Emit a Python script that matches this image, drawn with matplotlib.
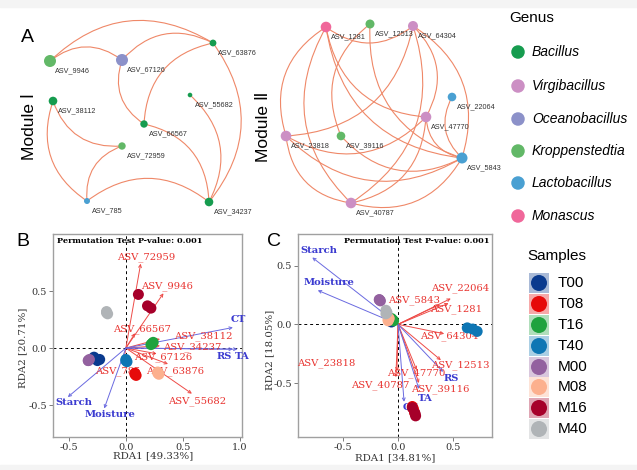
import matplotlib
matplotlib.use("Agg")
import matplotlib.pyplot as plt
from matplotlib.patches import FancyArrowPatch, Rectangle

W, H = 637, 470

# ---------------- data ----------------
genus_names = ["Bacillus", "Virgibacillus", "Oceanobacillus", "Kroppenstedtia", "Lactobacillus", "Monascus"]
genus_colors = ["#169c4f", "#cc8fc4", "#8c91c9", "#62b867", "#4aa0d2", "#f0679a"]

# Module I network
m1_nodes = ["ASV_9946", "ASV_67126", "ASV_63876", "ASV_38112", "ASV_55682", "ASV_66567", "ASV_72959", "ASV_785", "ASV_34237"]
m1_x = [50, 122, 213, 53, 190, 144, 122, 87, 209]
m1_y = [61, 60, 43, 101, 95, 124, 146, 201, 202]
m1_r = [6, 6, 3.4, 4.3, 2.3, 3.7, 3.7, 3.0, 4.3]
m1_genus = [3, 2, 0, 0, 0, 0, 3, 4, 0]
m1_edges = [("ASV_63876", "ASV_9946"), ("ASV_67126", "ASV_9946"), ("ASV_63876", "ASV_67126"),
            ("ASV_67126", "ASV_66567"), ("ASV_63876", "ASV_66567"), ("ASV_34237", "ASV_63876"),
            ("ASV_34237", "ASV_55682"), ("ASV_34237", "ASV_66567"), ("ASV_38112", "ASV_72959"),
            ("ASV_38112", "ASV_785"), ("ASV_72959", "ASV_785"), ("ASV_34237", "ASV_785")]

# Module II network
m2_nodes = ["ASV_1281", "ASV_12513", "ASV_64304", "ASV_22064", "ASV_47770", "ASV_23818", "ASV_39116", "ASV_5843", "ASV_40787"]
m2_x = [326, 370, 413, 452, 426, 286, 341, 462, 351]
m2_y = [27, 24, 26, 97, 117, 136, 136, 158, 203]
m2_r = [5.3, 4.5, 5.0, 4.3, 5.3, 5.3, 4.3, 5.5, 5.3]
m2_genus = [5, 3, 1, 4, 1, 1, 3, 4, 1]
m2_edges = [("ASV_1281", "ASV_64304"), ("ASV_1281", "ASV_23818"), ("ASV_1281", "ASV_40787"),
            ("ASV_1281", "ASV_47770"), ("ASV_1281", "ASV_5843"), ("ASV_12513", "ASV_39116"),
            ("ASV_12513", "ASV_5843"), ("ASV_23818", "ASV_64304"), ("ASV_40787", "ASV_64304"),
            ("ASV_5843", "ASV_64304"), ("ASV_47770", "ASV_64304"), ("ASV_22064", "ASV_5843"),
            ("ASV_40787", "ASV_47770"), ("ASV_47770", "ASV_5843"), ("ASV_23818", "ASV_5843"),
            ("ASV_23818", "ASV_40787"), ("ASV_39116", "ASV_5843"), ("ASV_40787", "ASV_5843"),
            ("ASV_23818", "ASV_47770")]

# Samples
sample_names = ["T00", "T08", "T16", "T40", "M00", "M08", "M16", "M40"]
sample_colors = ["#0a3a8e", "#e60a0a", "#1fa23e", "#0e76b4", "#93619f", "#fcb08e", "#a6002a", "#b0b4b7"]

# RDA panel B
b_pts_grp = ["T00"] * 3 + ["T08"] * 3 + ["T16"] * 3 + ["T40"] * 3 + ["M00"] * 3 + ["M08"] * 3 + ["M16"] * 3 + ["M40"] * 3
b_pts_x = [-0.28, -0.25, -0.23, 0.08, 0.09, 0.08, 0.22, 0.24, 0.23, 0.00, 0.01, 0.00,
           -0.33, -0.32, -0.33, 0.28, 0.29, 0.28, 0.11, 0.19, 0.22, -0.17, -0.16, -0.17]
b_pts_y = [-0.08, -0.11, -0.10, -0.22, -0.24, -0.23, 0.03, 0.05, 0.04, -0.10, -0.12, -0.11,
           -0.11, -0.10, -0.11, -0.22, -0.23, -0.21, 0.47, 0.37, 0.35, 0.31, 0.30, 0.32]
b_sp_names = ["ASV_72959", "ASV_9946", "ASV_66567", "ASV_38112", "ASV_34237", "ASV_67126", "ASV_785", "ASV_63876", "ASV_55682"]
b_sp_x = [0.13, 0.33, 0.08, 0.30, 0.30, 0.27, -0.02, 0.37, 0.58]
b_sp_y = [0.74, 0.48, 0.13, 0.08, 0.02, -0.05, -0.12, -0.14, -0.40]
b_sp_lx = [0.175, 0.36, 0.14, 0.68, 0.58, 0.33, -0.07, 0.43, 0.63]
b_sp_ly = [0.80, 0.54, 0.17, 0.10, 0.01, -0.08, -0.20, -0.20, -0.47]
b_env_names = ["CT", "RS", "TA", "Starch", "Moisture"]
b_env_x = [0.94, 0.94, 0.98, -0.51, -0.19]
b_env_y = [0.18, -0.01, -0.01, -0.43, -0.53]
b_env_lx = [0.99, 0.86, 1.02, -0.46, -0.14]
b_env_ly = [0.25, -0.07, -0.07, -0.48, -0.58]

# RDA panel C
c_pts_grp = b_pts_grp
c_pts_x = [-0.07, -0.06, -0.08, 0.13, 0.14, 0.15, -0.05, -0.04, -0.06, 0.63, 0.68, 0.72,
           -0.17, -0.16, -0.17, -0.09, -0.08, -0.09, 0.13, 0.155, 0.16, -0.11, -0.10, -0.11]
c_pts_y = [0.03, 0.02, 0.04, -0.70, -0.72, -0.75, 0.04, 0.03, 0.05, -0.03, -0.04, -0.06,
           0.21, 0.20, 0.21, 0.03, 0.05, 0.04, -0.71, -0.76, -0.78, 0.12, 0.10, 0.09]
c_sp_names = ["ASV_22064", "ASV_1281", "ASV_5843", "ASV_64304", "ASV_12513", "ASV_47770", "ASV_39116", "ASV_23818", "ASV_40787"]
c_sp_x = [0.48, 0.46, 0.38, 0.42, 0.39, 0.17, 0.19, -0.01, -0.02]
c_sp_y = [0.22, 0.18, 0.17, -0.08, -0.305, -0.39, -0.50, -0.40, -0.45]
c_sp_lx = [0.57, 0.53, 0.15, 0.47, 0.57, 0.17, 0.38, -0.65, -0.16]
c_sp_ly = [0.31, 0.13, 0.21, -0.10, -0.35, -0.42, -0.555, -0.33, -0.52]
c_env_names = ["Starch", "Moisture", "RS", "TA", "CT"]
c_env_x = [-0.78, -0.73, 0.41, 0.19, 0.055]
c_env_y = [0.57, 0.29, -0.405, -0.55, -0.66]
c_env_lx = [-0.72, -0.63, 0.48, 0.25, 0.11]
c_env_ly = [0.63, 0.36, -0.46, -0.635, -0.71]

b_xlabel, b_ylabel = "RDA1 [49.33%]", "RDA2 [20.71%]"
c_xlabel, c_ylabel = "RDA1 [34.81%]", "RDA2 [18.05%]"
perm_text = "Permutation Test P-value: 0.001"

# ---------------- styles ----------------
SANS = ["Liberation Sans", "DejaVu Sans"]
SERIF = ["DejaVu Serif"]
EDGE_C = "#ef8868"
RED = "#e8332f"
BLUE = "#3b3bd0"
RED_L = "#ee4b47"
BLUE_L = "#6a6ae0"

fig = plt.figure(figsize=(W / 100, H / 100), dpi=100)
fig.patch.set_facecolor("white")
fig.patches.append(Rectangle((0, 1 - 7 / H), 1, 7 / H, transform=fig.transFigure, color="#f4f4f4", zorder=0))
fig.patches.append(Rectangle((0, 0), 1, 5 / H, transform=fig.transFigure, color="#f4f4f4", zorder=0))

ax0 = fig.add_axes([0, 0, 1, 1])
ax0.set_xlim(0, W)
ax0.set_ylim(H, 0)
ax0.axis("off")
ax0.patch.set_alpha(0)


def draw_network(nodes, xs, ys, rs, gen, edges, rad):
    idx = {n: i for i, n in enumerate(nodes)}
    for a, b in edges:
        i, j = idx[a], idx[b]
        p = FancyArrowPatch((xs[i], ys[i]), (xs[j], ys[j]), connectionstyle=f"arc3,rad={rad}",
                            arrowstyle="-", color=EDGE_C, lw=0.8, shrinkA=0, shrinkB=0, zorder=2)
        ax0.add_patch(p)
    ax0.scatter(xs, ys, s=[(2 * r / 1.389) ** 2 for r in rs], c=[genus_colors[g] for g in gen],
                zorder=3, linewidths=0)
    for n, x, y in zip(nodes, xs, ys):
        ax0.text(x + 5, y + 10, n, fontsize=5.2, family=SANS, color="#333333", ha="left", va="center", zorder=4)


draw_network(m1_nodes, m1_x, m1_y, m1_r, m1_genus, m1_edges, 0.38)
draw_network(m2_nodes, m2_x, m2_y, m2_r, m2_genus, m2_edges, 0.38)

ax0.text(27, 37, "A", fontsize=14, family=SANS, ha="center", va="center")
ax0.text(29, 127, "Module Ⅰ", fontsize=12.5, family=SANS, rotation=90, ha="center", va="center")
ax0.text(264, 127, "Module Ⅱ", fontsize=12.5, family=SANS, rotation=90, ha="center", va="center")
ax0.text(23, 241, "B", fontsize=14, family=SANS, ha="center", va="center")
ax0.text(274, 241, "C", fontsize=14, family=SANS, ha="center", va="center")

# Genus legend
ax0.text(509, 18, "Genus", fontsize=11, family=SANS, ha="left", va="center")
g_y = [52, 86, 119, 151, 183, 216]
ax0.scatter([518] * len(genus_names), g_y, s=(13.5 / 1.389) ** 2, c=genus_colors, linewidths=0)
for name, y in zip(genus_names, g_y):
    ax0.text(532, y, name, fontsize=10, family=SANS, style="italic", ha="left", va="center")

# Samples legend
ax0.text(527, 256, "Samples", fontsize=11, family=SANS, ha="left", va="center")
s_y = [283, 304, 325, 346, 367, 387, 408, 429]
for col, y in zip(sample_colors, s_y):
    ax0.add_patch(Rectangle((529, y - 10), 20, 20, facecolor=col, alpha=0.35, linewidth=0))
ax0.scatter([539] * len(sample_names), s_y, s=(16 / 1.389) ** 2, c=sample_colors, linewidths=0, zorder=3)
for name, y in zip(sample_names, s_y):
    ax0.text(558, y, name, fontsize=11, family=SANS, ha="left", va="center")


def pbox(x0, y0, x1, y1):
    return [x0 / W, 1 - y1 / H, (x1 - x0) / W, (y1 - y0) / H]


def rda_panel(box, xlim, ylim, xticks, yticks, grp, px, py, spn, spx, spy, splx, sply,
              envn, envx, envy, envlx, envly, xl, yl, perm_left, xlc, ylc):
    ax = fig.add_axes(pbox(*box))
    ax.set_xlim(*xlim)
    ax.set_ylim(*ylim)
    ax.set_xticks(xticks)
    ax.set_yticks(yticks)
    ax.set_xticklabels([f"{t:.1f}" for t in xticks], family=SERIF, fontsize=7, color="#333333")
    ax.set_yticklabels([f"{t:.1f}" for t in yticks], family=SERIF, fontsize=7, color="#333333")
    ax.tick_params(length=3, width=0.6, color="#666666", pad=1.5)
    for s in ax.spines.values():
        s.set_color("#a0a0a0")
        s.set_linewidth(1.0)
    ax.axhline(0, color="black", lw=0.7, ls=(0, (3, 3)), zorder=1)
    ax.axvline(0, color="black", lw=0.7, ls=(0, (3, 3)), zorder=1)
    for x, y in zip(spx, spy):
        ax.annotate("", xy=(x, y), xytext=(0, 0),
                    arrowprops=dict(arrowstyle="->", color=RED_L, lw=0.7, shrinkA=0, shrinkB=0, mutation_scale=5),
                    zorder=2)
    for x, y in zip(envx, envy):
        ax.annotate("", xy=(x, y), xytext=(0, 0),
                    arrowprops=dict(arrowstyle="->", color=BLUE_L, lw=0.7, shrinkA=0, shrinkB=0, mutation_scale=5),
                    zorder=2)
    for n, x, y in zip(spn, splx, sply):
        ax.text(x, y, n, family=SERIF, fontsize=7.2, color=RED, ha="center", va="center", zorder=3)
    for n, x, y in zip(envn, envlx, envly):
        ax.text(x, y, n, family=SERIF, fontsize=7.2, weight="bold", color=BLUE, ha="center", va="center", zorder=3)
    cols = [sample_colors[sample_names.index(g)] for g in grp]
    ax.scatter(px, py, s=(11 / 1.389) ** 2, c=cols, linewidths=0, zorder=4)
    ax.set_xlabel(xl, family=SERIF, fontsize=7.4, color="#333333")
    ax.set_ylabel(yl, family=SERIF, fontsize=7.4, color="#333333")
    ax.xaxis.set_label_coords(*xlc)
    ax.yaxis.set_label_coords(*ylc)
    if perm_left:
        ax.text(0.02, 0.965, perm_text, transform=ax.transAxes, family=SERIF, fontsize=5.9,
                weight="bold", ha="left", va="center", zorder=5)
    else:
        ax.text(0.985, 0.965, perm_text, transform=ax.transAxes, family=SERIF, fontsize=5.9,
                weight="bold", ha="right", va="center", zorder=5)
    return ax


rda_panel((53, 234, 242, 437), (-0.64, 1.02), (-0.78, 1.0), [-0.5, 0.0, 0.5, 1.0], [-0.5, 0.0, 0.5],
          b_pts_grp, b_pts_x, b_pts_y, b_sp_names, b_sp_x, b_sp_y, b_sp_lx, b_sp_ly,
          b_env_names, b_env_x, b_env_y, b_env_lx, b_env_ly, b_xlabel, b_ylabel, True,
          (0.53, -0.07), (-0.135, 0.44))
rda_panel((298, 234, 492, 437), (-0.91, 0.855), (-0.96, 0.77), [-0.5, 0.0, 0.5], [-0.5, 0.0, 0.5],
          c_pts_grp, c_pts_x, c_pts_y, c_sp_names, c_sp_x, c_sp_y, c_sp_lx, c_sp_ly,
          c_env_names, c_env_x, c_env_y, c_env_lx, c_env_ly, c_xlabel, c_ylabel, False,
          (0.5, -0.078), (-0.12, 0.43))

fig.savefig("out.png", dpi=100)
